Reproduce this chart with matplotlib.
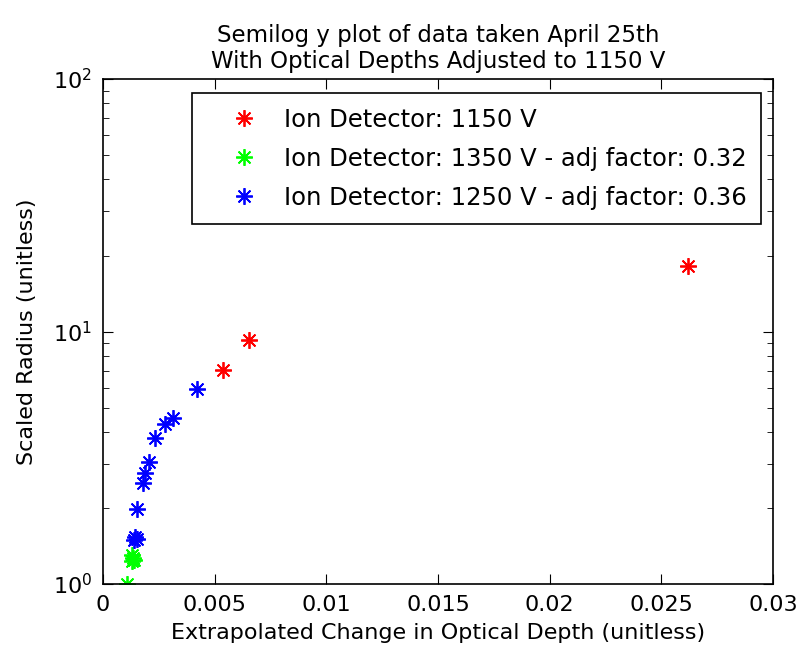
import matplotlib.pyplot as plt
from matplotlib.ticker import LogLocator, NullFormatter

# data
red_x = [0.00537, 0.00654, 0.0262]
red_y = [7.04, 9.25, 18.2]

green_x = [0.00106, 0.00129, 0.00134, 0.00138, 0.00131]
green_y = [1.0, 1.23, 1.27, 1.25, 1.30]

blue_x = [0.00137, 0.00143, 0.00150, 0.00151, 0.00177, 0.00188, 0.00206,
          0.00232, 0.00277, 0.00311, 0.0042]
blue_y = [1.50, 1.54, 1.51, 1.99, 2.52, 2.74, 3.05, 3.78, 4.30, 4.53, 5.92]

labels = ["Ion Detector: 1150 V",
          "Ion Detector: 1350 V - adj factor: 0.32",
          "Ion Detector: 1250 V - adj factor: 0.36"]

plt.rcParams['font.family'] = ['DejaVu Sans']
fs = 16
fig = plt.figure(figsize=(7.99, 6.52), dpi=100)
ax = fig.add_axes([0.129, 0.1043, 0.8385, 0.7745])

mk = (8, 2, 0)
ax.plot(red_x, red_y, linestyle='none', marker=mk, color='#ff0000', markersize=12, mew=1.3, label=labels[0])
ax.plot(green_x, green_y, linestyle='none', marker=mk, color='#00ff00', markersize=12, mew=1.3, label=labels[1])
ax.plot(blue_x, blue_y, linestyle='none', marker=mk, color='#0000ff', markersize=12, mew=1.3, label=labels[2])

ax.set_yscale('log')
ax.set_xlim(0, 0.03)
ax.set_ylim(1, 100)
ax.set_xticks([0, 0.005, 0.01, 0.015, 0.02, 0.025, 0.03])
ax.set_xticklabels(["0", "0.005", "0.01", "0.015", "0.02", "0.025", "0.03"])
ax.yaxis.set_minor_locator(LogLocator(base=10, subs=range(2, 10)))
ax.yaxis.set_minor_formatter(NullFormatter())

ax.tick_params(which='both', direction='in', top=True, right=True, labelsize=fs)
ax.tick_params(which='major', length=7, pad=8)
ax.tick_params(which='minor', length=4)
for s in ax.spines.values():
    s.set_linewidth(1.2)

ax.set_title("Semilog y plot of data taken April 25th\nWith Optical Depths Adjusted to 1150 V",
             fontsize=16.5, pad=8, linespacing=1.15)
ax.set_xlabel("Extrapolated Change in Optical Depth (unitless)", fontsize=fs, labelpad=6)
ax.set_ylabel("Scaled Radius (unitless)", fontsize=fs, labelpad=11)

leg = ax.legend(loc='upper right', bbox_to_anchor=(0.982, 0.972), fontsize=17.5,
                fancybox=False, edgecolor='black', framealpha=1, handletextpad=0.15,
                handlelength=3.0, borderpad=0.6, labelspacing=0.62, borderaxespad=0)
leg.get_frame().set_linewidth(1.2)

plt.savefig("out.png", dpi=100)
